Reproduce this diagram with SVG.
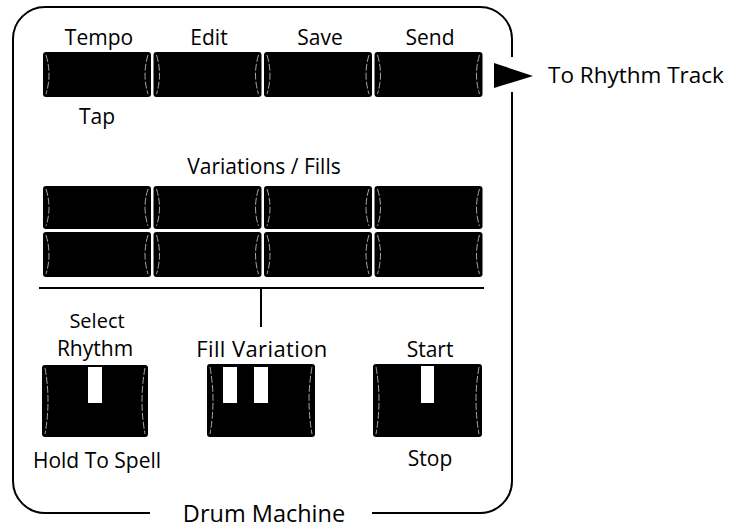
<svg xmlns="http://www.w3.org/2000/svg" width="731" height="529" viewBox="0 0 731 529">
<style>
.bg{fill:#fff}
.box{fill:none;stroke:#000;stroke-width:2;stroke-linecap:butt}
.btn{fill:#000}
.arc{fill:none;stroke:#d0d0d0;stroke-width:0.8;stroke-dasharray:7 2}
.slot{fill:#fff}
.ln{stroke:#000;stroke-width:2;fill:none}
text{font-family:"Open Sans","Liberation Sans",sans-serif;font-size:21px;fill:#000;text-anchor:middle}
.big{font-size:23.5px}
.st{text-anchor:start}
.wide{font-size:22px;letter-spacing:0.4px}
</style>
<rect class="bg" x="0" y="0" width="731" height="529"/>
<g id="frame">
<path class="box" d="M512 92 L512 481 A32 32 0 0 1 480 513 L372 513 M150 513 L45 513 A32 32 0 0 1 13 481 L13 39 A32 32 0 0 1 45 7 L480 7 A32 32 0 0 1 512 39 L512 57"/>
<text class="big" x="264" y="522">Drum Machine</text>
</g>
<g id="tempo">
<rect class="btn" x="43" y="52" width="108" height="45" rx="3"/>
<path class="arc" d="M46 55 Q52 74.5 46 94 M148 55 Q142 74.5 148 94"/>
<text x="99" y="45">Tempo</text>
<text x="97" y="124">Tap</text>
</g>
<g id="edit">
<rect class="btn" x="153.5" y="52" width="108" height="45" rx="3"/>
<path class="arc" d="M156.5 55 Q162.5 74.5 156.5 94 M258.5 55 Q252.5 74.5 258.5 94"/>
<text x="209" y="45">Edit</text>
</g>
<g id="save">
<rect class="btn" x="264" y="52" width="108" height="45" rx="3"/>
<path class="arc" d="M267 55 Q273 74.5 267 94 M369 55 Q363 74.5 369 94"/>
<text x="320" y="45">Save</text>
</g>
<g id="send">
<rect class="btn" x="374.5" y="52" width="108" height="45" rx="3"/>
<path class="arc" d="M377.5 55 Q383.5 74.5 377.5 94 M479.5 55 Q473.5 74.5 479.5 94"/>
<text x="430" y="45">Send</text>
</g>
<g id="to-rhythm-track">
<text class="st" x="548" y="83" style="font-size:22.5px">To Rhythm Track</text>
</g>
<g id="variations-fills">
<text x="264" y="174">Variations / Fills</text>
<rect class="btn" x="43" y="186" width="108" height="43" rx="3"/>
<rect class="btn" x="153.5" y="186" width="108" height="43" rx="3"/>
<rect class="btn" x="264" y="186" width="108" height="43" rx="3"/>
<rect class="btn" x="374.5" y="186" width="108" height="43" rx="3"/>
<rect class="btn" x="43" y="232" width="108" height="45" rx="3"/>
<rect class="btn" x="153.5" y="232" width="108" height="45" rx="3"/>
<rect class="btn" x="264" y="232" width="108" height="45" rx="3"/>
<rect class="btn" x="374.5" y="232" width="108" height="45" rx="3"/>
<path class="arc" d="M46 189 Q52 207.5 46 226 M148 189 Q142 207.5 148 226 M156.5 189 Q162.5 207.5 156.5 226 M258.5 189 Q252.5 207.5 258.5 226 M267 189 Q273 207.5 267 226 M369 189 Q363 207.5 369 226 M377.5 189 Q383.5 207.5 377.5 226 M479.5 189 Q473.5 207.5 479.5 226"/>
<path class="arc" d="M46 235 Q52 254.5 46 274 M148 235 Q142 254.5 148 274 M156.5 235 Q162.5 254.5 156.5 274 M258.5 235 Q252.5 254.5 258.5 274 M267 235 Q273 254.5 267 274 M369 235 Q363 254.5 369 274 M377.5 235 Q383.5 254.5 377.5 274 M479.5 235 Q473.5 254.5 479.5 274"/>
</g>
<g id="select-rhythm">
<text x="97" y="327.5" style="font-size:20px">Select</text>
<text x="95" y="356">Rhythm</text>
<rect class="btn" x="42" y="365" width="106" height="72" rx="3"/>
<path class="arc" d="M45 368 Q51 401 45 434 M145 368 Q139 401 145 434"/>
<rect class="slot" x="88" y="367" width="14" height="36"/>
<text x="97" y="468">Hold To Spell</text>
</g>
<g id="fill-variation">
<text class="wide" x="262" y="357">Fill Variation</text>
<rect class="btn" x="207" y="364" width="108" height="73" rx="3"/>
<path class="arc" d="M210 367 Q216 400.5 210 434 M312 367 Q306 400.5 312 434"/>
<rect class="slot" x="223" y="367" width="14" height="36"/>
<rect class="slot" x="254" y="367" width="14" height="36"/>
</g>
<g id="start-stop">
<text x="430" y="357">Start</text>
<rect class="btn" x="373" y="364" width="109" height="73" rx="3"/>
<path class="arc" d="M376 367 Q382 400.5 376 434 M479 367 Q473 400.5 479 434"/>
<rect class="slot" x="421" y="366" width="13" height="37"/>
<text x="430" y="466">Stop</text>
</g>
<g id="connectors">
<polygon points="494,63 533,76 494,88" fill="#000"/>
<line class="ln" x1="39" y1="288" x2="484" y2="288"/>
<line class="ln" x1="261" y1="288" x2="261" y2="327"/>
</g>
</svg>
